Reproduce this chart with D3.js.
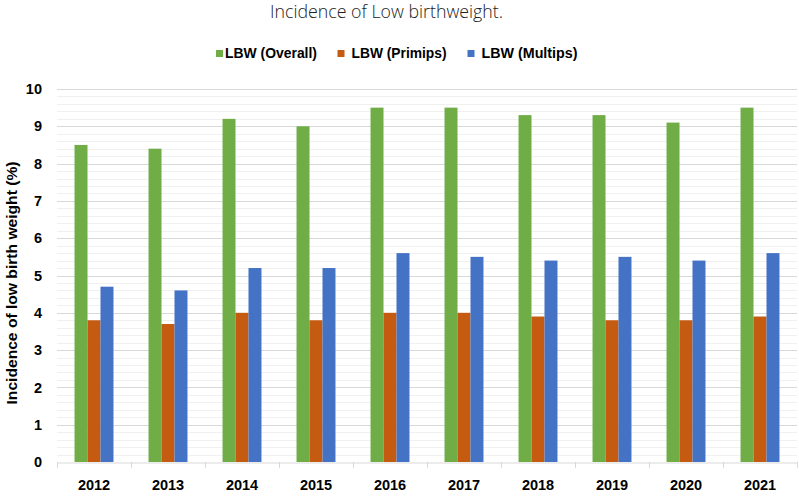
<!DOCTYPE html>
<html>
<head>
<meta charset="utf-8">
<script src="https://cdn.jsdelivr.net/npm/d3@7"></script>
<style>
  body { margin: 0; background: #fff; }
  svg { display: block; }
</style>
</head>
<body>
<svg id="chart" width="799" height="496"></svg>
<script>
const years = ["2012","2013","2014","2015","2016","2017","2018","2019","2020","2021"];
const overall = [8.5, 8.4, 9.2, 9.0, 9.5, 9.5, 9.3, 9.3, 9.1, 9.5];
const primips = [3.8, 3.7, 4.0, 3.8, 4.0, 4.0, 3.9, 3.8, 3.8, 3.9];
const multips = [4.7, 4.6, 5.2, 5.2, 5.6, 5.5, 5.4, 5.5, 5.4, 5.6];
const seriesNames = ["LBW (Overall)", "LBW (Primips)", "LBW (Multips)"];
const seriesColors = ["#70AD47", "#C55A11", "#4472C4"];
const yTicks = [0,1,2,3,4,5,6,7,8,9,10];
const title = "Incidence of Low birthweight.";
const yLabel = "Incidence of low birth weight (%)";

const seriesValues = [overall, primips, multips];
const svg = d3.select("#chart");
const m = {left: 57, right: 2, top: 89, bottom: 34};
const W = 799, H = 496;
const x0 = d3.scaleBand().domain(years).range([m.left, W - m.right]).padding(0);
const x1 = d3.scaleBand().domain(d3.range(3)).range([0, x0.bandwidth()]).paddingInner(0).paddingOuter(1.35);
const y = d3.scaleLinear().domain([0, 10]).range([H - m.bottom, m.top]);

// minor gridlines
const minor = d3.range(0, 10.001, 0.2).filter(v => Math.abs(v - Math.round(v)) > 1e-6);
svg.append("g").selectAll("line").data(minor).join("line")
  .attr("x1", m.left).attr("x2", W - m.right)
  .attr("y1", d => Math.round(y(d)) + 0.5).attr("y2", d => Math.round(y(d)) + 0.5)
  .attr("stroke", "#f0f0f0").attr("stroke-width", 1);
// major gridlines
svg.append("g").selectAll("line").data(yTicks.slice(1)).join("line")
  .attr("x1", m.left).attr("x2", W - m.right)
  .attr("y1", d => Math.round(y(d)) + 0.5).attr("y2", d => Math.round(y(d)) + 0.5)
  .attr("stroke", "#d9d9d9").attr("stroke-width", 1);

// bars
const groups = svg.append("g").selectAll("g").data(years).join("g")
  .attr("transform", d => `translate(${x0(d)},0)`);
groups.selectAll("rect").data((d, i) => seriesValues.map((s, k) => ({k, v: s[i]}))).join("rect")
  .attr("x", d => x1(d.k)).attr("width", x1.bandwidth())
  .attr("y", d => y(d.v)).attr("height", d => y(0) - y(d.v))
  .attr("fill", d => seriesColors[d.k]);

// x axis
const xAxis = d3.axisBottom(x0).tickSize(0).tickPadding(17);
const gx = svg.append("g").attr("transform", `translate(0,${Math.round(y(0)) + 0.5})`).call(xAxis);
gx.select(".domain").attr("stroke", "#d9d9d9");
gx.selectAll("text").attr("font-family", "Liberation Sans, Arial, sans-serif")
  .attr("font-weight", "bold").attr("font-size", 14.5).attr("fill", "#000");
// category boundary ticks
const bounds = years.map(d => x0(d)).concat([x0(years[years.length - 1]) + x0.bandwidth()]);
svg.append("g").selectAll("line").data(bounds).join("line")
  .attr("x1", d => Math.round(d) + 0.5).attr("x2", d => Math.round(d) + 0.5)
  .attr("y1", Math.round(y(0))).attr("y2", Math.round(y(0)) + 6)
  .attr("stroke", "#d9d9d9");

// y axis
const yAxis = d3.axisLeft(y).tickValues(yTicks).tickSize(0).tickPadding(15);
const gy = svg.append("g").attr("transform", `translate(${m.left},0)`).call(yAxis);
gy.select(".domain").remove();
gy.selectAll("text").attr("font-family", "Liberation Sans, Arial, sans-serif")
  .attr("font-weight", "bold").attr("font-size", 14.5).attr("fill", "#000");

// y label
svg.append("text")
  .attr("transform", `translate(17,283) rotate(-90)`)
  .attr("text-anchor", "middle")
  .attr("font-family", "Liberation Sans, Arial, sans-serif")
  .attr("font-weight", "bold").attr("font-size", 15).attr("fill", "#000")
  .attr("textLength", 243).attr("lengthAdjust", "spacingAndGlyphs")
  .text(yLabel);

// title
svg.append("text").attr("x", 386.5).attr("y", 18).attr("text-anchor", "middle")
  .attr("font-family", "Open Sans, Liberation Sans, sans-serif")
  .attr("font-weight", 300)
  .attr("font-size", 17.5).attr("fill", "#222")
  .attr("textLength", 233).attr("lengthAdjust", "spacingAndGlyphs")
  .text(title);

// legend
const legendX = [216, 337.5, 467.5];
const legendW = [92, 95, 96];
const lg = svg.append("g").selectAll("g").data(seriesNames).join("g")
  .attr("transform", (d, i) => `translate(${legendX[i]},50)`);
lg.append("rect").attr("width", 7).attr("height", 7).attr("fill", (d, i) => seriesColors[i]);
lg.append("text").attr("x", (d, i) => i === 0 ? 9 : 14).attr("y", 8)
  .attr("font-family", "Liberation Sans, Arial, sans-serif")
  .attr("font-weight", "bold").attr("font-size", 14).attr("fill", "#000")
  .attr("textLength", (d, i) => legendW[i]).attr("lengthAdjust", "spacingAndGlyphs")
  .text(d => d);
</script>
</body>
</html>
